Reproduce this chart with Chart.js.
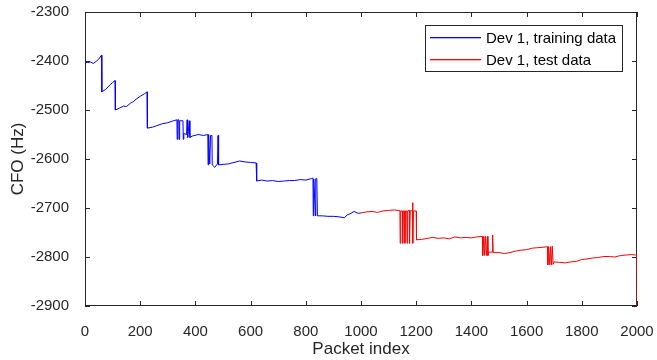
<!DOCTYPE html>
<html>
<head>
<meta charset="utf-8">
<script src="https://cdn.jsdelivr.net/npm/chart.js@4"></script>
<style>
  html, body { margin: 0; padding: 0; background: #fff; }
  #wrap { width: 657px; height: 360px; }
</style>
</head>
<body>
<div id="wrap"><canvas id="cfoChart"></canvas></div>
<script>
// valeurs (index du paquet, CFO en Hz)
const trainX = [0, 10, 20, 30, 40, 50, 60, 61, 75, 90, 100, 109, 110, 125, 140, 150, 165, 175, 185, 200, 215, 225, 226, 245, 260, 280, 300, 320, 333, 334, 336, 340, 341, 343, 355, 356, 358, 368, 370, 372, 378, 380, 390, 410, 430, 445, 446, 448, 452, 455, 460, 461, 470, 480, 482, 484, 500, 520, 540, 560, 580, 600, 620, 622, 640, 660, 680, 700, 720, 740, 760, 780, 800, 820, 826, 827, 829, 835, 836, 840, 842, 860, 880, 900, 920, 940, 950, 960, 975, 990, 1000];
const trainY = [-2403, -2403, -2402, -2405, -2401, -2396, -2388, -2463, -2458, -2449, -2444, -2440, -2500, -2496, -2492, -2493, -2486, -2483, -2478, -2472, -2467, -2463, -2537, -2535, -2532, -2528, -2526, -2522, -2520, -2560, -2520, -2520, -2560, -2522, -2522, -2560, -2548, -2550, -2520, -2556, -2522, -2556, -2553, -2550, -2552, -2550, -2612, -2550, -2610, -2552, -2552, -2612, -2617, -2610, -2552, -2612, -2611, -2610, -2607, -2604, -2606, -2607, -2608, -2645, -2643, -2645, -2644, -2646, -2645, -2644, -2644, -2642, -2643, -2640, -2639, -2716, -2641, -2716, -2640, -2640, -2716, -2716, -2717, -2717, -2718, -2720, -2714, -2712, -2707, -2711, -2710];

const testX = [1000, 1020, 1040, 1060, 1080, 1100, 1120, 1135, 1141, 1142, 1144, 1150, 1151, 1153, 1158, 1159, 1161, 1166, 1167, 1169, 1175, 1176, 1178, 1186, 1187, 1188, 1190, 1200, 1201, 1220, 1240, 1260, 1280, 1300, 1320, 1340, 1360, 1380, 1400, 1420, 1440, 1441, 1445, 1448, 1451, 1455, 1458, 1460, 1462, 1475, 1477, 1479, 1500, 1520, 1540, 1560, 1580, 1600, 1620, 1640, 1660, 1676, 1677, 1680, 1684, 1687, 1690, 1693, 1696, 1700, 1720, 1740, 1760, 1780, 1800, 1820, 1840, 1860, 1880, 1900, 1920, 1940, 1960, 1980, 1995, 1999, 2000];
const testY = [-2710, -2708, -2707, -2709, -2706, -2705, -2704, -2705, -2705, -2772, -2706, -2706, -2772, -2706, -2706, -2772, -2706, -2706, -2772, -2706, -2705, -2772, -2706, -2705, -2689, -2772, -2706, -2706, -2765, -2764, -2762, -2760, -2762, -2761, -2763, -2759, -2761, -2760, -2761, -2759, -2758, -2797, -2758, -2797, -2758, -2797, -2758, -2797, -2790, -2790, -2755, -2791, -2791, -2793, -2791, -2788, -2786, -2785, -2782, -2781, -2780, -2779, -2816, -2779, -2816, -2779, -2816, -2778, -2815, -2810, -2811, -2812, -2810, -2809, -2805, -2804, -2802, -2801, -2799, -2799, -2800, -2797, -2796, -2795, -2796, -2796, -2900];

const seriesLabels = ['Dev 1, training data', 'Dev 1, test data'];
const seriesColors = ['#0000ff', '#ff0000'];
const xTicks = [0, 200, 400, 600, 800, 1000, 1200, 1400, 1600, 1800, 2000];
const yTicks = [-2900, -2800, -2700, -2600, -2500, -2400, -2300];

const axisColor = '#262626';
const fontFamily = "'Liberation Sans', Arial, Helvetica, sans-serif";

function toPoints(xs, ys) {
    return xs.map((x, i) => ({ x: x, y: ys[i] }));
}

// cadre + graduations vers l'intérieur, façon MATLAB
const boxPlugin = {
    id: 'boxPlugin',
    beforeDatasetsDraw(chart) {
        const { ctx, chartArea: a, scales } = chart;
        ctx.save();
        ctx.strokeStyle = axisColor;
        ctx.lineWidth = 1;
        ctx.strokeRect(a.left + 0.5, a.top + 0.5, a.right - a.left - 1, a.bottom - a.top - 1);
        const len = 5;
        ctx.beginPath();
        xTicks.forEach(v => {
            const px = Math.round(scales.x.getPixelForValue(v)) + 0.5;
            ctx.moveTo(px, a.bottom); ctx.lineTo(px, a.bottom - len);
            ctx.moveTo(px, a.top); ctx.lineTo(px, a.top + len);
        });
        yTicks.forEach(v => {
            const py = Math.round(scales.y.getPixelForValue(v)) + 0.5;
            ctx.moveTo(a.left, py); ctx.lineTo(a.left + len, py);
            ctx.moveTo(a.right, py); ctx.lineTo(a.right - len, py);
        });
        ctx.stroke();
        ctx.restore();
    },
    afterDraw(chart) {
        // légende dans le coin en haut à droite
        const { ctx } = chart;
        const bx = 425.5, by = 25.5, bw = 197, bh = 46;
        ctx.save();
        ctx.fillStyle = '#ffffff';
        ctx.fillRect(bx, by, bw, bh);
        ctx.strokeStyle = axisColor;
        ctx.lineWidth = 1;
        ctx.strokeRect(bx, by, bw, bh);
        ctx.font = '15px ' + fontFamily;
        ctx.textBaseline = 'middle';
        seriesLabels.forEach((label, i) => {
            const y = 37 + i * 22;
            ctx.fillStyle = seriesColors[i];
            ctx.fillRect(430, y, 51, 1.3);
            ctx.fillStyle = '#000000';
            ctx.fillText(label, 486, y + 1.5);
        });
        ctx.restore();
    }
};

new Chart(document.getElementById('cfoChart'), {
    type: 'line',
    data: {
        datasets: [
            {
                label: seriesLabels[0],
                data: toPoints(trainX, trainY),
                borderColor: seriesColors[0],
                borderWidth: 1,
                pointRadius: 0,
                tension: 0
            },
            {
                label: seriesLabels[1],
                data: toPoints(testX, testY),
                borderColor: seriesColors[1],
                borderWidth: 1,
                pointRadius: 0,
                tension: 0
            }
        ]
    },
    options: {
        responsive: true,
        maintainAspectRatio: false,
        animation: false,
        layout: { padding: { left: 0, right: 20, top: 12, bottom: 0 } },
        plugins: {
            legend: { display: false },
            tooltip: { enabled: false }
        },
        scales: {
            x: {
                type: 'linear',
                min: 0,
                max: 2000,
                afterFit: s => { s.height = 54; s.paddingLeft = 0; s.paddingRight = 0; },
                afterBuildTicks: s => { s.ticks = xTicks.map(v => ({ value: v })); },
                grid: { display: false },
                border: { display: false },
                ticks: { color: axisColor, padding: 9, maxRotation: 0, font: { family: fontFamily, size: 15 }, callback: v => String(v) },
                title: { display: true, text: 'Packet index', color: axisColor, padding: { top: 3, bottom: 0 }, font: { family: fontFamily, size: 17 } }
            },
            y: {
                type: 'linear',
                min: -2900,
                max: -2300,
                afterFit: s => { s.width = 85; s.paddingTop = 0; s.paddingBottom = 0; },
                afterBuildTicks: s => { s.ticks = yTicks.map(v => ({ value: v })); },
                grid: { display: false },
                border: { display: false },
                ticks: { color: axisColor, padding: 8, font: { family: fontFamily, size: 15 }, callback: v => String(v) },
                title: { display: true, text: 'CFO (Hz)', color: axisColor, padding: { top: 8, bottom: 0 }, font: { family: fontFamily, size: 17 } }
            }
        }
    },
    plugins: [boxPlugin]
});
</script>
</body>
</html>
